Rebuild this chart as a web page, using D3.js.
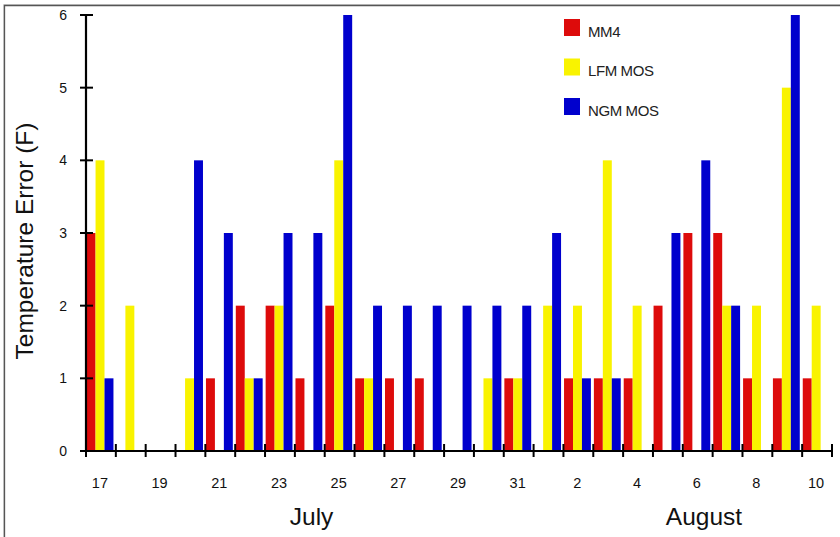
<!DOCTYPE html>
<html>
<head>
<meta charset="utf-8">
<script src="https://cdn.jsdelivr.net/npm/d3@7/dist/d3.min.js"></script>
<style>
  html, body { margin: 0; padding: 0; background: #fff; }
  svg { display: block; font-family: "Liberation Sans", Arial, sans-serif; }
</style>
</head>
<body>
<svg id="chart" width="840" height="537"></svg>
<script>
// ---- data ----
const days = ["17","18","19","20","21","22","23","24","25","26","27","28","29","30","31",
              "1","2","3","4","5","6","7","8","9","10"];
const dayLabels = ["17","","19","","21","","23","","25","","27","","29","","31",
                   "","2","","4","","6","","8","","10"];
const seriesNames = ["MM4", "LFM MOS", "NGM MOS"];
const mm4    = [3,0,0,0,1,2,2,1,2,1,1,1,0,0,1, 0,1,1,1,2,3,3,1,1,1];
const lfmMos = [4,2,0,1,0,1,2,0,4,1,0,0,0,1,1, 2,2,4,2,0,0,2,2,5,2];
const ngmMos = [1,0,0,4,3,1,3,3,6,2,2,2,2,2,2, 3,1,1,0,3,4,2,0,6,0];
const yTicks = [0,1,2,3,4,5,6];
const monthNames = ["July", "August"];
const monthAnchorDays = ["24", "6"];
const colors = ["#dd0b0b", "#f9f300", "#0000cd"];

const seriesValues = [mm4, lfmMos, ngmMos];

const svg = d3.select("#chart");

// frame
svg.append("path").attr("d","M3.5,537 V4.5 H840").attr("fill","none")
  .attr("stroke","#d0d0d0").attr("stroke-width",1);
svg.append("path").attr("d","M4.5,537 V5.5 H840").attr("fill","none")
  .attr("stroke","#555").attr("stroke-width",1.3);

const x = d3.scaleBand().domain(days).range([86, 832]).paddingInner(0).paddingOuter(0);
const sub = d3.scaleBand().domain(seriesNames).range([0.6, x.bandwidth()*0.9 + 0.6]).padding(0);
const y = d3.scaleLinear().domain([0, 6]).range([451, 15]);

// bars
const g = svg.append("g");
seriesNames.forEach((s, si) => {
  g.selectAll(null).data(days.map((d,i)=>({d, v: seriesValues[si][i]})))
    .enter().append("rect")
    .attr("x", o => x(o.d) + sub(s))
    .attr("y", o => y(o.v))
    .attr("width", sub.bandwidth())
    .attr("height", o => y(0) - y(o.v))
    .attr("fill", colors[si]);
});

// y axis
const yAxis = svg.append("g");
yAxis.append("line").attr("x1",86).attr("x2",86).attr("y1",y(6)-0.5).attr("y2",y(0))
  .attr("stroke","#000").attr("stroke-width",2.2);
yAxis.selectAll(".yt").data(yTicks).enter().append("line")
  .attr("x1",80).attr("x2",93).attr("y1",d=>y(d)).attr("y2",d=>y(d))
  .attr("stroke","#000").attr("stroke-width",2);
yAxis.selectAll(".yl").data(yTicks).enter().append("text")
  .attr("x",67).attr("y",d=>y(d)).attr("dy","0.36em")
  .attr("text-anchor","end").attr("font-size",14).attr("fill","#111")
  .text(d=>d);

// x axis
const xAxis = svg.append("g");
xAxis.append("line").attr("x1",85).attr("x2",833).attr("y1",y(0)).attr("y2",y(0))
  .attr("stroke","#000").attr("stroke-width",2.2);
const tickPos = days.map(d => x(d)).concat([x.range()[1]]);
xAxis.selectAll(".xt").data(tickPos).enter().append("line")
  .attr("x1",d=>d).attr("x2",d=>d).attr("y1",444).attr("y2",457)
  .attr("stroke","#000").attr("stroke-width",2);
xAxis.selectAll(".xl").data(days).enter().append("text")
  .attr("x",(d)=>x(d)+x.bandwidth()/2 - 1).attr("y",488)
  .attr("text-anchor","middle").attr("font-size",14.5).attr("fill","#111")
  .text((d,i)=>dayLabels[i]);

// month labels
const monthOffsets = [0.56, 0.71];
svg.selectAll(".month").data(monthNames).enter().append("text")
  .attr("x", (d,i) => x(monthAnchorDays[i]) + x.bandwidth()*monthOffsets[i])
  .attr("y", 525).attr("text-anchor","middle").attr("font-size",24.5).attr("fill","#111")
  .text(d=>d);

// y title
svg.append("text").attr("transform","translate(33,241) rotate(-90)")
  .attr("text-anchor","middle").attr("font-size",24.5).attr("fill","#111")
  .text("Temperature Error (F)");

// legend
const leg = svg.append("g");
seriesNames.forEach((s, i) => {
  const ly = 19 + i*39.5;
  leg.append("rect").attr("x",564).attr("y",ly).attr("width",16).attr("height",17).attr("fill",colors[i]);
  leg.append("text").attr("x",588).attr("y",ly+17.5).attr("font-size",15)
    .attr("letter-spacing",-0.4).attr("fill","#222").text(s);
});
</script>
</body>
</html>
